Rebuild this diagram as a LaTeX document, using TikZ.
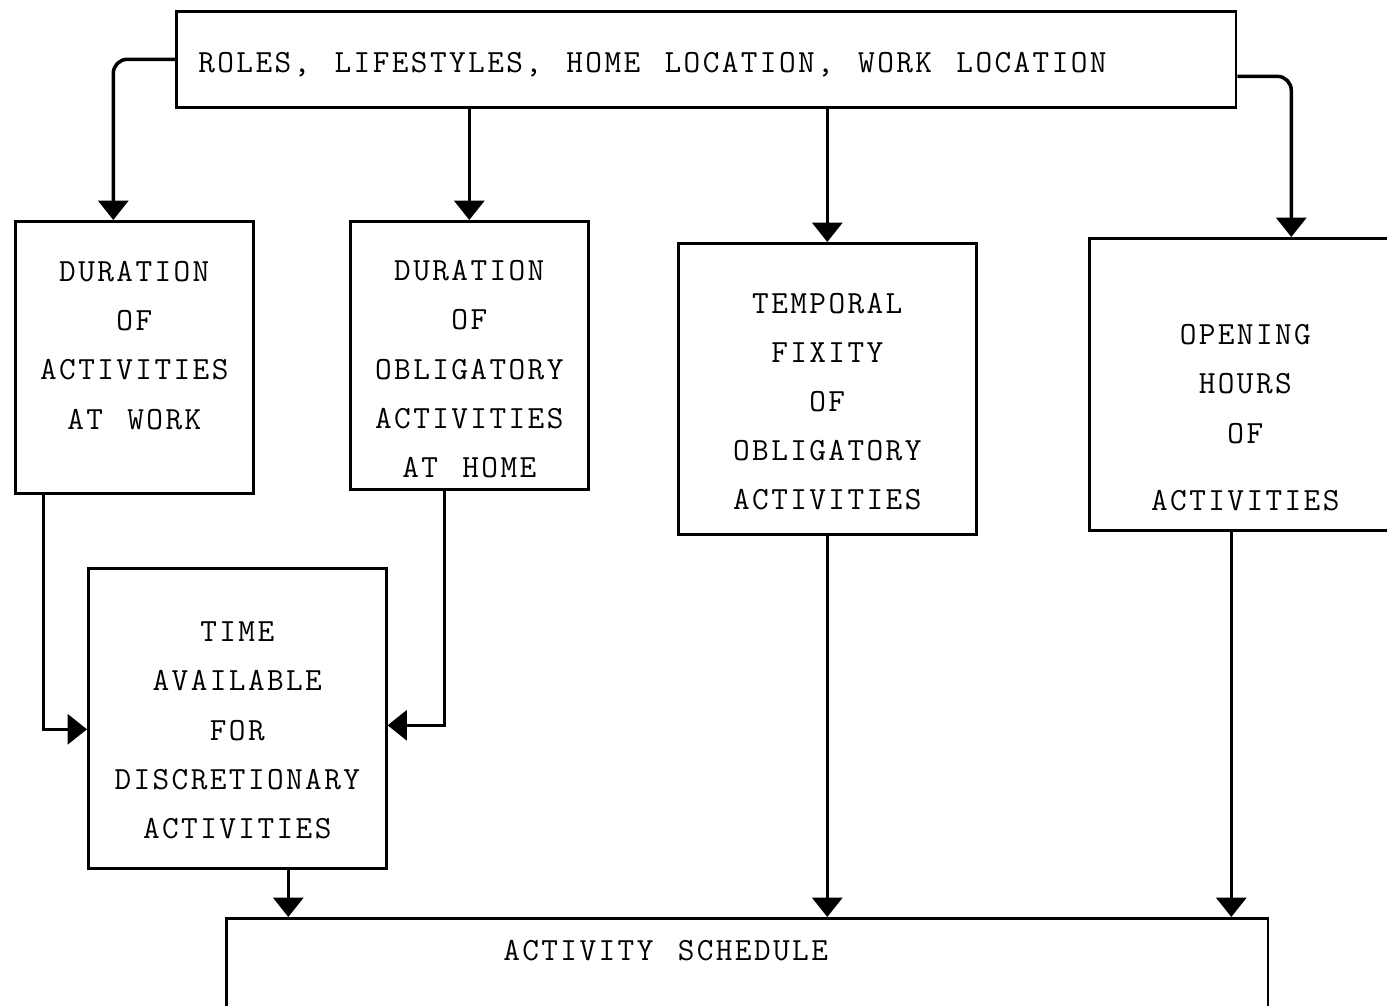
\documentclass[tikz,border=0pt]{standalone}
\usepackage{fontspec}
\setmonofont{Latin Modern Mono}[LetterSpace=7.5]
\usetikzlibrary{arrows.meta,calc}
\protected\def\typefont{\ttfamily\fontsize{18.4}{28}\selectfont}
% widen the word gaps to a full typewriter cell
\newcommand\gap{\hspace*{0.42em}}

\begin{document}
\begin{tikzpicture}[x=0.02cm,y=-0.02cm,%
% common options for blocks:
block/.style = {draw, line width=1.5pt, align=center, anchor=north west,
            inner sep=0, font=\typefont},
% common options for the arrows:
flow/.style = {line width=2pt, -{Triangle[width=17pt,length=11pt]}}]
\useasboundingbox (0,0) rectangle (1387,1005);
\node[block,align=left,inner xsep=0.44cm,text width=20.32cm,minimum height=1.92cm,text height=0.6cm] (R0) at (175,10) {ROLES, \gap LIFESTYLES, \gap HOME \gap LOCATION, \gap WORK \gap LOCATION};
\node[block,text width=4.76cm,minimum height=5.44cm,text depth=3.44cm] (D1) at (14,220) {DURATION\\OF\\ACTIVITIES\\AT \gap WORK};
\node[block,text width=4.76cm,minimum height=5.36cm,text height=0.96cm] (D2) at (349,220) {DURATION\\OF\\OBLIGATORY\\ACTIVITIES\\AT \gap HOME};
\node[block,text width=5.96cm,minimum height=5.82cm,text height=0.92cm] (F1) at (677,242) {TEMPORAL\\FIXITY\\OF\\OBLIGATORY\\ACTIVITIES};
\node[block,text width=6.24cm,minimum height=5.84cm,text height=1.74cm] (H1) at (1088,237) {OPENING\\HOURS\\OF\\[0.36cm]ACTIVITIES};
\node[block,text width=5.96cm,minimum height=6.0cm,text height=0.88cm] (T1) at (87,567) {TIME\\AVAILABLE\\FOR\\DISCRETIONARY\\ACTIVITIES};
\node[block,align=left,inner xsep=0.44cm,text width=19.96cm,minimum height=2.0cm,text depth=0.72cm] (S1) at (225,917) {\hspace*{5.1cm}ACTIVITY \gap SCHEDULE};
\draw[flow,rounded corners=8pt] (R0.west) -| ($(D1.north)+(-21,0)$);
\draw[flow] (D2.north |- R0.south) -- (D2.north);
\draw[flow] (F1.north |- R0.south) -- (F1.north);
\draw[flow,rounded corners=8pt] ($(R0.east)+(0,17)$) -| ($(H1.north)+(46,0)$);
\draw[flow] ($(D1.south)+(-91,0)$) |- ($(T1.west)+(0,11)$);
\draw[flow] ($(D2.south)+(-25,0)$) |- ($(T1.east)+(0,7)$);
\draw[flow] ($(T1.south)+(51,0)$) coordinate (e1) -- (e1 |- S1.north);
\draw[flow] (F1.south) -- (F1.south |- S1.north);
\draw[flow] ($(H1.south)+(-14,0)$) coordinate (e2) -- (e2 |- S1.north);
\end{tikzpicture}
\end{document}
